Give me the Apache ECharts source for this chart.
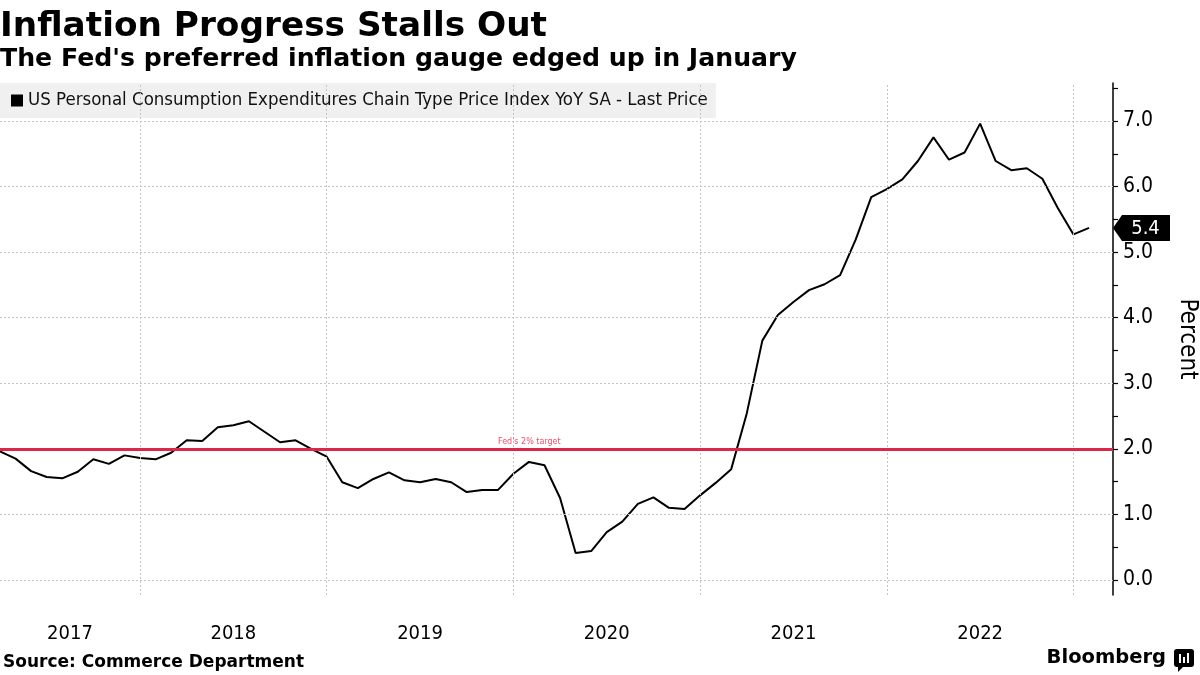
<!DOCTYPE html>
<html><head><meta charset="utf-8">
<script src="https://cdn.jsdelivr.net/npm/echarts@6/dist/echarts.min.js"></script>
<style>html,body{margin:0;padding:0;background:#fff}#c{width:1200px;height:675px}</style>
</head><body><div id="c"></div>
<script>
const chartTitle = 'Inflation Progress Stalls Out';
const chartSubtitle = "The Fed's preferred inflation gauge edged up in January";
const seriesName = 'US Personal Consumption Expenditures Chain Type Price Index YoY SA - Last Price';
const sourceText = 'Source: Commerce Department';
const brandText = 'Bloomberg';
const unitName = 'Percent';
const targetLabel = "Fed's 2% target";
const fedTarget = 2;

// Monthly values, March 2017 .. January 2023
const startYear = 2017;
const startMonth = 3;
const pce = [
  1.96, 1.85, 1.66, 1.57, 1.55, 1.65, 1.84, 1.77, 1.90, 1.86,
  1.84, 1.94, 2.13, 2.12, 2.33, 2.36, 2.42, 2.26, 2.10, 2.13, 2.00, 1.88,
  1.49, 1.40, 1.54, 1.64, 1.52, 1.49, 1.54, 1.49, 1.34, 1.37, 1.37, 1.62,
  1.80, 1.75, 1.25, 0.41, 0.44, 0.73, 0.89, 1.16, 1.26, 1.10, 1.08, 1.29,
  1.48, 1.69, 2.54, 3.65, 4.04, 4.24, 4.42, 4.51, 4.65, 5.19, 5.84, 5.96,
  6.11, 6.39, 6.75, 6.41, 6.52, 6.96, 6.39, 6.25, 6.28, 6.12, 5.67, 5.27,
  5.37
];
const years = ['2017', '2018', '2019', '2020', '2021', '2022'];
const yLabelValues = [0, 1, 2, 3, 4, 5, 6, 7];
const yTickValues = [0, 0.5, 1, 1.5, 2, 2.5, 3, 3.5, 4, 4.5, 5, 5.5, 6, 6.5, 7, 7.5];

const xMax = 71.54;
const yMin = -0.23, yMax = 7.58;

const FONT = 'DejaVu Sans';
const FONT_C = 'DejaVu Sans Condensed';

const data = pce.map((v, i) => [i, v]);
const lastIdx = pce.length - 1;
const lastVal = pce[lastIdx];

// index of December of year y (year boundary)
const decIdx = y => (Number(y) - startYear) * 12 + (12 - startMonth);
const yearCenter = y => {
  const s = Math.max(0, decIdx(y) - 12);
  const e = Math.min(lastIdx, decIdx(y));
  return (s + e) / 2;
};
const yearCenters = years.map(yearCenter);

const chart = echarts.init(document.getElementById('c'), null, {renderer: 'canvas'});
chart.setOption({
  animation: false,
  backgroundColor: '#fff',
  title: {
    text: chartTitle,
    subtext: chartSubtitle,
    left: 0, top: 10, padding: 0, itemGap: 3,
    textStyle: {fontFamily: FONT, fontWeight: 'bold', fontSize: 34.3, color: '#000'},
    subtextStyle: {fontFamily: FONT, fontWeight: 'bold', fontSize: 25.2, color: '#000'}
  },
  legend: {
    data: [{name: seriesName, icon: 'rect'}],
    left: 0, top: 83,
    itemWidth: 12, itemHeight: 12,
    padding: [8, 8, 8, 11],
    backgroundColor: 'rgba(238,238,238,0.88)',
    selectedMode: false,
    textStyle: {fontFamily: FONT_C, fontSize: 18.5, color: '#111'}
  },
  grid: {left: 0, right: 87, top: 83, bottom: 80, containLabel: false, outerBoundsMode: 'none'},
  xAxis: {
    type: 'value', min: 0, max: xMax,
    axisLine: {show: false}, axisTick: {show: false},
    splitLine: {show: false},
    axisLabel: {
      customValues: yearCenters,
      formatter: v => years[yearCenters.indexOf(v)] || '',
      fontFamily: FONT_C, fontSize: 20, color: '#000', margin: 29
    }
  },
  yAxis: {
    type: 'value', position: 'right', min: yMin, max: yMax,
    axisLine: {show: true, onZero: false, lineStyle: {color: '#000', width: 1.5}},
    axisTick: {show: true, customValues: yTickValues, length: 5, lineStyle: {color: '#000', width: 1.2}},
    axisLabel: {
      customValues: yLabelValues,
      formatter: v => v.toFixed(1),
      fontFamily: FONT_C, fontSize: 21, color: '#000', margin: 10
    },
    splitLine: {show: false},
    name: unitName, nameLocation: 'middle', nameRotate: -90, nameGap: 62,
    nameTextStyle: {fontFamily: FONT_C, fontSize: 24, color: '#000'}
  },
  series: [
    {
      type: 'line', name: 'grid', data: [], silent: true, z: 1,
      markLine: {
        silent: true, symbol: 'none', animation: false,
        label: {show: false},
        lineStyle: {color: '#c4c4c4', type: [2, 2], width: 1},
        data: yLabelValues.map(v => ({yAxis: v})).concat(years.map(y => ({xAxis: decIdx(y)})))
      }
    },
    {
      type: 'line', name: seriesName, data: data, z: 3,
      showSymbol: false, symbol: 'none',
      itemStyle: {color: '#000'},
      lineStyle: {color: '#000', width: 2},
      markLine: {
        silent: true, symbol: 'none', animation: false,
        lineStyle: {color: '#dc2848', width: 3, type: 'solid'},
        label: {
          show: true, formatter: targetLabel, position: 'insideStartTop',
          distance: [498, 3], fontFamily: FONT, fontSize: 8, color: '#e8506a'
        },
        data: [{yAxis: fedTarget}]
      },
      markPoint: {
        silent: true, animation: false,
        data: [{
          coord: [xMax, lastVal],
          symbol: 'path://M0,13 L9,0 L57,0 L57,26 L9,26 Z',
          symbolSize: [57, 26], symbolKeepAspect: false,
          symbolOffset: [28.5, 0],
          itemStyle: {color: '#000'},
          label: {
            show: true, position: 'inside', offset: [4, 1],
            formatter: lastVal.toFixed(1),
            fontFamily: FONT_C, fontSize: 20, color: '#fff'
          }
        }]
      }
    }
  ],
  graphic: [
    {type: 'text', left: 3, top: 654, style: {text: sourceText, fontFamily: FONT, fontWeight: 'bold', fontSize: 17, fill: '#000'}},
    {type: 'text', right: 34, top: 648, style: {text: brandText, fontFamily: FONT, fontWeight: 'bold', fontSize: 19.5, fill: '#000'}},
    {type: 'group', right: 6, top: 649, children: [
      {type: 'rect', shape: {x: 0, y: 0, width: 20, height: 18, r: 3}, style: {fill: '#000'}},
      {type: 'polygon', shape: {points: [[4, 17], [10, 17], [4, 23]]}, style: {fill: '#000'}},
      {type: 'rect', shape: {x: 5, y: 5, width: 2, height: 9}, style: {fill: '#fff'}},
      {type: 'rect', shape: {x: 9, y: 8, width: 2, height: 6}, style: {fill: '#fff'}},
      {type: 'rect', shape: {x: 13, y: 4, width: 2, height: 10}, style: {fill: '#fff'}}
    ]}
  ]
});
</script></body></html>
